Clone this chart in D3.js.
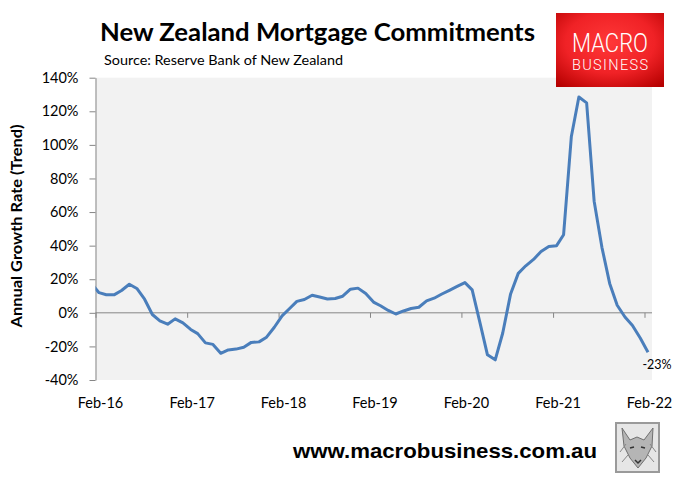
<!DOCTYPE html>
<html><head><meta charset="utf-8">
<script src="https://cdn.jsdelivr.net/npm/d3@7"></script>
<style>body{margin:0;background:#fff}svg{display:block}</style>
</head><body><svg id="c" width="678" height="480"></svg>
<script>
// Monthly observations (mid-month), Jan-2016 .. Feb-2022
const firstMonth = new Date(2016, 0, 15);
const lastMonth = new Date(2022, 1, 15);
const growth = [17.5,12.0,10.8,10.7,13.3,17.0,14.5,8.1,-1.0,-4.8,-6.8,-3.6,-6.0,-9.9,-12.4,-17.9,-18.8,-24.1,-22.1,-21.6,-20.5,-17.6,-17.3,-14.5,-8.6,-1.8,2.3,6.8,7.9,10.5,9.4,8.2,8.5,9.9,14.1,14.7,11.5,6.4,4.2,1.4,-0.7,1.1,2.6,3.3,7.1,8.7,11.2,13.4,15.7,18.0,13.7,-5.8,-25,-28,-12,11,23.5,28,31.8,36.5,39.5,40,46.5,105,128.5,125,66.5,39,17.5,4.5,-2.5,-7.5,-15,-23.5];
const xTickLabels = ["Feb-16","Feb-17","Feb-18","Feb-19","Feb-20","Feb-21","Feb-22"];
const xTickDates = [2016,2017,2018,2019,2020,2021,2022].map(y => new Date(y, 1, 1));
const yTicks = [-40,-20,0,20,40,60,80,100,120,140];
const peakLabel = "128%";
const lastLabel = "-23%";

const months = d3.timeMonth.range(new Date(2016,0,1), new Date(2022,2,1)).map(d => d3.timeDay.offset(d, 14));
const data = months.map((d,i) => ({date: d, v: growth[i]}));

const svg = d3.select("#c");
const L = 95.5, R = 652, T = 77.7, B = 380;
const x = d3.scaleTime().domain([new Date(2016,1,1), new Date(2022,2,1)]).range([L, 651.5]);
const y = d3.scaleLinear().domain([-40,140]).range([B, T]);
const FONT = "Lato, 'Open Sans', sans-serif";

// plot background
svg.append("rect").attr("x", L).attr("y", T).attr("width", R-L).attr("height", B-T).attr("fill", "#f2f2f2");
svg.append("clipPath").attr("id","pc").append("rect").attr("x", L).attr("y", T-20).attr("width", R-L).attr("height", B-T+40);

// y axis
const ya = svg.append("g").attr("transform", `translate(${L},0)`)
  .call(d3.axisLeft(y).tickValues(yTicks).tickFormat(d => d + "%").tickSize(6).tickPadding(11).tickSizeOuter(0));
ya.select(".domain").attr("stroke", "#868686");
ya.selectAll(".tick line").attr("stroke", "#868686");
ya.selectAll("text").attr("font-family", FONT).attr("font-size", 14.5).attr("fill", "#000");

// x axis at zero
const xa = svg.append("g").attr("transform", `translate(0,${y(0)})`)
  .call(d3.axisBottom(x).tickValues(xTickDates).tickFormat("").tickSize(5).tickSizeOuter(0));
xa.select(".domain").attr("stroke", "#868686").attr("d", `M${L},0H${R}`);
xa.selectAll(".tick line").attr("stroke", "#868686");

// x labels at bottom
svg.append("g").selectAll("text").data(xTickDates).join("text")
  .attr("x", d => x(d) + 5).attr("y", 408).attr("text-anchor", "middle")
  .attr("font-family", FONT).attr("font-size", 14.5).attr("fill", "#000")
  .text((d,i) => xTickLabels[i]);

// line
svg.append("path").datum(data).attr("clip-path", "url(#pc)")
  .attr("fill", "none").attr("stroke", "#4a7ebb").attr("stroke-width", 3).attr("stroke-linejoin", "round")
  .attr("d", d3.line().x(d => x(d.date)).y(d => y(d.v)));

// data labels
const peak = data.reduce((a,b) => b.v > a.v ? b : a);
svg.append("text").attr("x", x(peak.date) - 5).attr("y", y(peak.v) - 10).attr("text-anchor","middle")
  .attr("font-family", FONT).attr("font-size", 12.5).attr("fill", "#000").text(peakLabel);
const last = data[data.length-1];
svg.append("text").attr("x", x(last.date) + 9).attr("y", y(last.v) + 17).attr("text-anchor","middle")
  .attr("font-family", FONT).attr("font-size", 12.5).attr("fill", "#000").text(lastLabel);

// titles
svg.append("text").attr("x", 100).attr("y", 41).attr("font-family", FONT).attr("font-weight", "bold")
  .attr("font-size", 25).attr("textLength", 435).attr("lengthAdjust", "spacingAndGlyphs").attr("fill","#000")
  .text("New Zealand Mortgage Commitments");
svg.append("text").attr("x", 104).attr("y", 65).attr("font-family", FONT)
  .attr("font-size", 14).attr("textLength", 239).attr("lengthAdjust", "spacingAndGlyphs").attr("fill","#000")
  .text("Source: Reserve Bank of New Zealand");
svg.append("text").attr("transform", "translate(22,226) rotate(-90)").attr("text-anchor", "middle")
  .attr("font-family", FONT).attr("font-weight", "bold").attr("font-size", 15).attr("fill","#000")
  .attr("textLength", 203).attr("lengthAdjust","spacingAndGlyphs")
  .text("Annual Growth Rate (Trend)");

// footer url
svg.append("text").attr("x", 293).attr("y", 458).attr("font-family", "'Liberation Sans', Arial, sans-serif")
  .attr("font-weight", "bold").attr("font-size", 21).attr("textLength", 304).attr("lengthAdjust","spacingAndGlyphs")
  .attr("fill", "#000").text("www.macrobusiness.com.au");

// logo
const defs = svg.append("defs");
const rg = defs.append("radialGradient").attr("id","lg").attr("cx","50%").attr("cy","40%").attr("r","75%");
rg.append("stop").attr("offset","0%").attr("stop-color","#ff3838");
rg.append("stop").attr("offset","55%").attr("stop-color","#f02226");
rg.append("stop").attr("offset","100%").attr("stop-color","#b50000");
svg.append("rect").attr("x", 556).attr("y", 13).attr("width", 108).attr("height", 74).attr("fill", "url(#lg)");
svg.append("text").attr("x", 610).attr("y", 51.5).attr("text-anchor","middle")
  .attr("font-family","Roboto, 'Open Sans', sans-serif").attr("font-weight","300").attr("font-size", 25)
  .attr("textLength", 76).attr("lengthAdjust","spacingAndGlyphs").attr("fill","#fff").text("MACRO");
svg.append("text").attr("x", 610).attr("y", 70).attr("text-anchor","middle")
  .attr("font-family","Roboto, 'Open Sans', sans-serif").attr("font-weight","300").attr("font-size", 14.5)
  .attr("textLength", 76).attr("lengthAdjust","spacing").attr("fill","#fff").text("BUSINESS");

// wolf badge
const wg = svg.append("g");
wg.append("rect").attr("x", 616).attr("y", 423).attr("width", 43).attr("height", 49)
  .attr("fill", "#e6e6e6").attr("stroke", "#9a9a9a").attr("stroke-width", 2);
wg.append("path").attr("d", "M622,428 L630,440 L637,437 L644,440 L653,428 L652,446 L646,458 L638,468 L630,458 L624,446 Z")
  .attr("fill", "#b5b5b5").attr("stroke", "#6f6f6f").attr("stroke-width", 1);
wg.append("path").attr("d", "M630,448 L634,447 M641,447 L645,448 M635,460 L638,463 L641,460")
  .attr("fill","none").attr("stroke","#333").attr("stroke-width",1.5);
wg.append("path").attr("d", "M626,444 L620,452 M650,444 L656,452 M628,455 L622,462 M648,455 L654,462")
  .attr("fill","none").attr("stroke","#888").attr("stroke-width",1);
</script></body></html>
